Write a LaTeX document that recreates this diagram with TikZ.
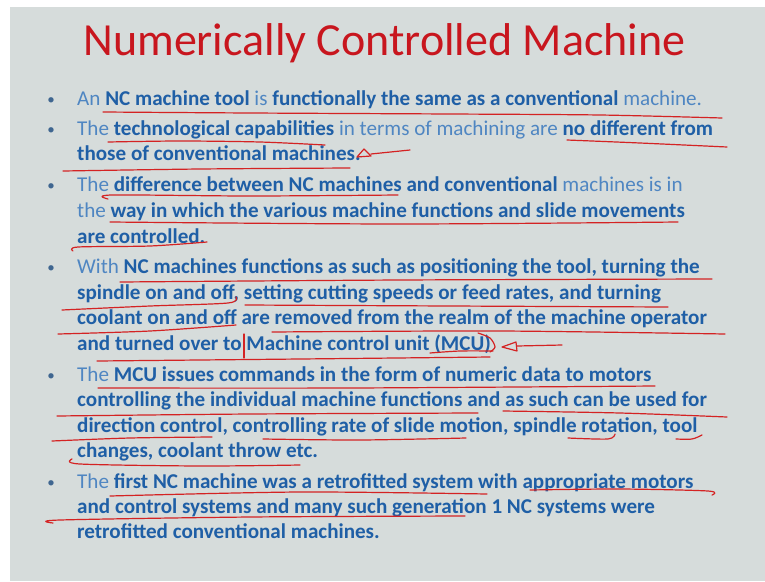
\documentclass[tikz,border=0pt]{standalone}
\usepackage{fontspec}
\setmainfont{Carlito}
\definecolor{bgc}{HTML}{D6DCDB}
\definecolor{titlered}{HTML}{C8161E}
\definecolor{bblue}{HTML}{1F5FA6}
\definecolor{rblue}{HTML}{4F86C2}
\definecolor{pen}{HTML}{D42323}
\definecolor{dotc}{HTML}{3F6690}
\tikzset{
  ann/.style={draw=pen, line width=1.2pt, line cap=round, line join=round},
  txt/.style={anchor=base west, inner sep=0pt, font=\fontsize{21.1}{25}\selectfont, text=bblue},
  dot/.style={anchor=base, inner sep=0pt, font=\fontsize{15}{18}\selectfont, text=dotc},
}
\newcommand{\rg}[1]{{\color{rblue}#1}}
\newcommand{\bd}[1]{{\bfseries #1}}
\begin{document}
\begin{tikzpicture}[x=1pt,y=-1pt]
\useasboundingbox (0,0) rectangle (765,581);
\fill[white] (0,0) rectangle (765,581);
\fill[bgc] (10,7) rectangle (765,581);
% title
\node[anchor=base, inner sep=0pt, font=\fontsize{46}{50}\selectfont, text=titlered] (title) at (384.5,55) {Numerically Controlled Machine};
% bullets
\node[dot] (b1) at (51,104) {•};
\node[dot] (b2) at (51,134) {•};
\node[dot] (b3) at (51,190) {•};
\node[dot] (b4) at (51,272) {•};
\node[dot] (b5) at (51,380) {•};
\node[dot] (b6) at (51,487) {•};
% text lines
\node[txt] (l1) at (77,105) {\rg{An} \bd{NC machine tool} \rg{is} \bd{functionally the same as a conventional} \rg{machine.}};
\node[txt] (l2) at (77,135) {\rg{The} \bd{technological capabilities} \rg{in terms of machining are} \bd{no different from}};
\node[txt] (l3) at (77,160) {\bd{those of conventional machines.}};
\node[txt] (l4) at (77,191) {\rg{The} \bd{difference between NC machines and conventional} \rg{machines is in}};
\node[txt] (l5) at (77,217) {\rg{the} \bd{way in which the various machine functions and slide movements}};
\node[txt] (l6) at (77,243) {\bd{are controlled.}};
\node[txt] (l7) at (77,273) {\rg{With} \bd{NC machines functions as such as positioning the tool, turning the}};
\node[txt] (l8) at (77,299) {\bd{spindle on and off, setting cutting speeds or feed rates, and turning}};
\node[txt] (l9) at (77,324) {\bd{coolant on and off are removed from the realm of the machine operator}};
\node[txt] (l10) at (77,350) {\bd{and turned over to Machine control unit (MCU)}};
\node[txt] (l11) at (77,381) {\rg{The} \bd{MCU issues commands in the form of numeric data to motors}};
\node[txt] (l12) at (77,406) {\bd{controlling the individual machine functions and as such can be used for}};
\node[txt] (l13) at (77,432) {\bd{direction control, controlling rate of slide motion, spindle rotation, tool}};
\node[txt] (l14) at (77,457) {\bd{changes, coolant throw etc.}};
\node[txt] (l15) at (77,488) {\rg{The} \bd{first NC machine was a retrofitted system with appropriate motors}};
\node[txt] (l16) at (77,513) {\bd{and control systems and many such generation 1 NC systems were}};
\node[txt] (l17) at (77,538) {\bd{retrofitted conventional machines.}};
% red pen annotations
\draw[ann] plot[smooth] coordinates {(103,112) (250,113) (450,114) (600,115) (722,118)};
\draw[ann] plot[smooth] coordinates {(108,142) (180,141) (260,142) (325,145)};
\draw[ann] plot[smooth] coordinates {(567,140) (640,143) (727,147)};
\draw[ann] (357,157) -- (364,149) -- (371,156) -- cycle;
\draw[ann] (371,154) -- (410,150);
\draw[ann] plot[smooth] coordinates {(63,171) (200,169) (350,168)};
\draw[ann] plot[smooth] coordinates {(108,199) (112,195) (250,196) (398,195)};
\draw[ann] plot[smooth] coordinates {(110,222) (400,224) (678,222)};
\draw[ann] plot[smooth] coordinates {(73,251) (78,247) (150,246) (207,242)};
\draw[ann] plot[smooth] coordinates {(120,282) (400,280) (712,279)};
\draw[ann] plot[smooth] coordinates {(62,310) (150,306) (228,303) (236,297)};
\draw[ann] plot[smooth] coordinates {(245,305) (450,306) (668,307)};
\draw[ann] plot[smooth] coordinates {(58,334) (150,331) (236,325)};
\draw[ann] plot[smooth] coordinates {(272,332) (500,331) (725,334)};
\draw[ann] (244,334) -- (244,358);
\draw[ann] plot[smooth] coordinates {(478,333) (490,338) (495,347) (490,352)};
\draw[ann] plot[smooth] coordinates {(430,353) (460,351) (493,351)};
\draw[ann] plot[smooth] coordinates {(97,361) (300,359) (490,357)};
\draw[ann] (502,347) -- (516,342) -- (517,351) -- cycle;
\draw[ann] (517,346) -- (562,345);
\draw[ann] plot[smooth] coordinates {(98,388) (350,388) (655,386)};
\draw[ann] plot[smooth] coordinates {(57,416) (250,414) (478,413)};
\draw[ann] plot[smooth] coordinates {(503,411) (620,413) (727,417)};
\draw[ann] plot[smooth] coordinates {(52,441) (130,438) (212,437)};
\draw[ann] plot[smooth] coordinates {(263,439) (360,440) (466,438)};
\draw[ann] plot[smooth] coordinates {(568,438) (608,439) (615,434)};
\draw[ann] plot[smooth] coordinates {(676,439) (692,439) (702,435)};
\draw[ann] plot[smooth] coordinates {(72,459) (80,464) (200,466) (300,465)};
\draw[ann] plot[smooth] coordinates {(110,496) (300,492) (487,494)};
\draw[ann] plot[smooth] coordinates {(530,490) (620,489) (708,491) (712,495)};
\draw[ann] plot[smooth] coordinates {(53,523) (60,520) (250,517) (465,516)};
\end{tikzpicture}
\end{document}
